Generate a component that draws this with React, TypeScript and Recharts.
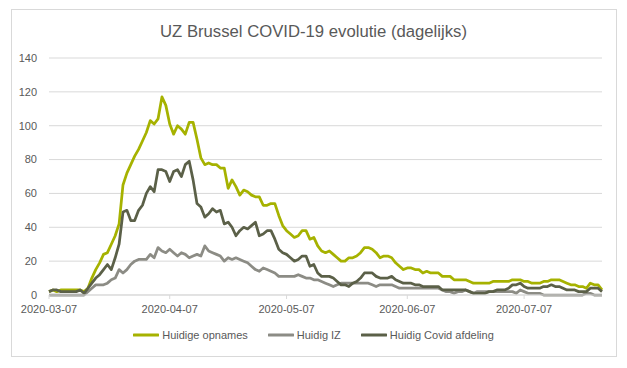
import { LineChart, Line, XAxis, YAxis, CartesianGrid } from 'recharts';

// daily values from 2020-03-07 to 2020-07-27
const opnames = [
  2, 3, 2, 3, 3, 3, 3, 3, 3, 2, 4, 10, 15, 19, 24, 25, 30, 35, 42, 65,
  72, 77, 82, 86, 91, 96, 103, 101, 104, 117, 112, 101, 95, 100, 98, 95, 102, 102, 92, 81,
  77, 78, 77, 77, 75, 75, 63, 68, 64, 59, 62, 61, 59, 58, 58, 53, 53, 54, 54, 47,
  41, 38, 36, 34, 35, 38, 38, 33, 34, 29, 26, 25, 26, 24, 22, 20, 20, 22, 22, 23,
  25, 28, 28, 27, 25, 22, 23, 23, 22, 19, 17, 15, 16, 16, 15, 15, 13, 14, 13, 13,
  13, 11, 11, 11, 9, 9, 9, 9, 8, 7, 7, 7, 7, 7, 8, 8, 8, 8, 8, 9,
  9, 9, 8, 8, 7, 7, 7, 8, 8, 9, 9, 9, 8, 7, 6, 6, 5, 5, 4, 7,
  6, 6, 3,
];

const iz = [
  0, 0, 0, 0, 0, 0, 0, 0, 0, 0, 2, 4, 6, 6, 6, 7, 9, 10, 15, 13,
  15, 18, 20, 21, 21, 21, 24, 22, 28, 26, 25, 27, 25, 23, 25, 24, 22, 23, 24, 23,
  29, 26, 25, 24, 23, 20, 22, 21, 22, 21, 20, 19, 17, 15, 14, 16, 15, 14, 13, 11,
  11, 11, 11, 11, 12, 11, 10, 10, 9, 9, 8, 7, 6, 5, 6, 7, 7, 7, 7, 7,
  7, 7, 7, 6, 5, 6, 6, 6, 6, 5, 4, 4, 4, 4, 4, 4, 4, 4, 4, 4,
  4, 3, 2, 2, 1, 2, 2, 3, 2, 1, 2, 2, 2, 2, 2, 2, 2, 2, 2, 2,
  1, 3, 2, 1, 1, 1, 1, 0, 0, 0, 0, 0, 0, 0, 0, 0, 0, 0, 1, 1,
  0, 0, 0,
];

const afdeling = [
  2, 3, 3, 2, 2, 2, 2, 2, 3, 1, 4, 7, 10, 12, 15, 18, 15, 22, 30, 49,
  50, 44, 44, 50, 53, 60, 64, 61, 74, 74, 73, 67, 73, 74, 70, 77, 79, 68, 54, 52,
  46, 48, 51, 49, 50, 42, 43, 40, 35, 38, 40, 39, 41, 43, 35, 36, 38, 38, 33, 27,
  25, 24, 22, 20, 21, 23, 23, 17, 18, 13, 11, 11, 11, 10, 8, 6, 6, 5, 7, 8,
  10, 13, 13, 13, 11, 10, 10, 10, 11, 9, 8, 7, 7, 7, 6, 6, 5, 5, 5, 5,
  5, 3, 3, 3, 3, 3, 3, 3, 2, 1, 1, 1, 1, 2, 2, 3, 3, 3, 4, 6,
  6, 7, 5, 4, 4, 4, 4, 5, 5, 6, 5, 5, 4, 3, 3, 3, 2, 2, 2, 4,
  4, 4, 2,
];

const xTicks = ['2020-03-07', '2020-04-07', '2020-05-07', '2020-06-07', '2020-07-07'];
const yTicks = [0, 20, 40, 60, 80, 100, 120, 140];

const series = [
  { key: 'opnames', name: 'Huidige opnames', color: '#a6b200' },
  { key: 'iz', name: 'Huidig IZ', color: '#8c8c85' },
  { key: 'afdeling', name: 'Huidig Covid afdeling', color: '#5b6048' },
];

const pad = (n: number) => (n < 10 ? '0' + n : '' + n);
const start = Date.UTC(2020, 2, 7);
const dates = opnames.map((_, i) => {
  const d = new Date(start + i * 86400000);
  return `${d.getUTCFullYear()}-${pad(d.getUTCMonth() + 1)}-${pad(d.getUTCDate())}`;
});

const data = dates.map((date, i) => ({
  date,
  opnames: opnames[i],
  iz: iz[i],
  afdeling: afdeling[i],
}));

const font = '"Liberation Sans", Arial, sans-serif';
const textColor = '#595959';
const gridColor = '#d9d9d9';

export default function App() {
  return (
    <div style={{ position: 'absolute', left: 0, top: 0, width: 627, height: 368, background: '#fff', fontFamily: font }}>
      <div
        style={{
          position: 'absolute',
          left: 11,
          top: 9,
          width: 604,
          height: 346,
          border: `1px solid ${gridColor}`,
        }}
      />
      <div
        style={{
          position: 'absolute',
          left: 0,
          top: 22,
          width: 627,
          lineHeight: '20px',
          textAlign: 'center',
          fontSize: 16.7,
          color: textColor,
        }}
      >
        UZ Brussel COVID-19 evolutie (dagelijks)
      </div>
      <div style={{ position: 'absolute', left: 0, top: 0 }}>
        <LineChart width={627} height={368} data={data} margin={{ top: 58, right: 25, left: 0, bottom: 43 }}>
          <CartesianGrid vertical={false} stroke={gridColor} />
          <XAxis
            dataKey="date"
            ticks={xTicks}
            interval={0}
            stroke={gridColor}
            tickSize={4}
            tickMargin={6}
            height={30}
            tick={{ fill: textColor, fontSize: 11, fontFamily: font }}
          />
          <YAxis
            domain={[0, 140]}
            ticks={yTicks}
            width={49}
            axisLine={false}
            tickLine={false}
            tickMargin={6}
            tick={{ fill: textColor, fontSize: 11, fontFamily: font }}
          />
          {series.map((s) => (
            <Line
              key={s.key}
              type="linear"
              dataKey={s.key}
              name={s.name}
              stroke={s.color}
              strokeWidth={2.75}
              strokeLinejoin="round"
              dot={false}
              isAnimationActive={false}
            />
          ))}
        </LineChart>
      </div>
      <div
        style={{
          position: 'absolute',
          left: 0,
          top: 326,
          width: 627,
          display: 'flex',
          justifyContent: 'center',
          gap: 20,
          fontSize: 11,
          color: textColor,
          lineHeight: '18px',
        }}
      >
        {series.map((s) => (
          <div key={s.key} style={{ display: 'flex', alignItems: 'center', gap: 3 }}>
            <svg width={26} height={6}>
              <line x1={1} y1={3} x2={25} y2={3} stroke={s.color} strokeWidth={3} strokeLinecap="round" />
            </svg>
            <span>{s.name}</span>
          </div>
        ))}
      </div>
    </div>
  );
}
